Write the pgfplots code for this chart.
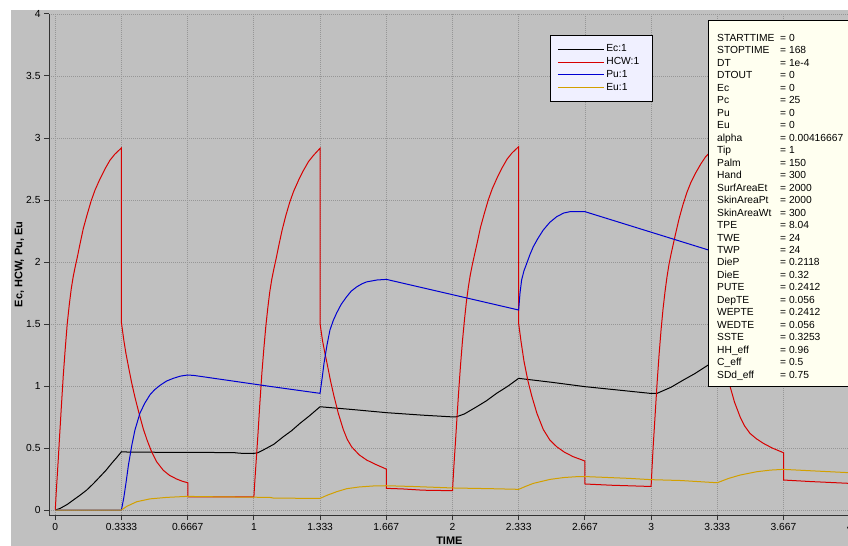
\documentclass[border=0pt]{standalone}
\usepackage{pgfplots}
\pgfplotsset{compat=1.18}
\usepackage{fontspec}
\setmainfont{Liberation Sans}
\definecolor{bggray}{RGB}{192,192,192}
\definecolor{gridgray}{RGB}{150,150,150}
\definecolor{hcwred}{RGB}{215,0,0}
\definecolor{publue}{RGB}{0,0,210}
\definecolor{eugold}{RGB}{210,160,0}
\definecolor{boxivory}{RGB}{255,255,240}
\definecolor{leglav}{RGB}{240,240,255}
\begin{document}
\begin{tikzpicture}
\fill[white] (0bp,0bp) rectangle (848bp,546bp);
\fill[bggray] (11bp,0bp) rectangle (848bp,536bp);
\begin{axis}[
  at={(49bp,31bp)}, anchor=south west,
  scale only axis, width=800.7bp, height=501bp,
  xmin=-0.0317, xmax=4, ymin=-0.04, ymax=4,
  axis x line*=bottom, axis y line*=left,
  xtick={0,0.33333,0.66667,1,1.33333,1.66667,2,2.33333,2.66667,3,3.33333,3.66667,4},
  xticklabels={0,0.3333,0.6667,1,1.333,1.667,2,2.333,2.667,3,3.333,3.667,4},
  ytick={0,0.5,1,1.5,2,2.5,3,3.5,4},
  yticklabels={0,0.5,1,1.5,2,2.5,3,3.5,4},
  grid=major,
  major grid style={gridgray, line width=0.8bp, dash pattern=on 1bp off 1bp},
  tick align=outside, major tick length=5bp,
  tick style={black!80, line width=1bp},
  axis line style={black!80, line width=1bp},
  ticklabel style={font=\fontsize{10.3}{12}\selectfont},
  xlabel={TIME}, ylabel={Ec, HCW, Pu, Eu},
  xlabel style={font=\bfseries\fontsize{11}{13}\selectfont, at={(axis description cs:0.5,-0.052)}, anchor=center},
  ylabel style={font=\bfseries\fontsize{11}{13}\selectfont, at={(axis description cs:-0.037,0.5)}, anchor=center, rotate=0},
  legend style={at={(axis description cs:0.6257,0.958)}, anchor=north west, fill=leglav, draw=black, line width=0.8bp,
    font=\fontsize{10.3}{12}\selectfont, inner xsep=7bp, inner ysep=7.5bp, row sep=0.3bp,
    cells={anchor=west, text width=37bp}},
  legend image code/.code={\draw[#1, line width=1bp] (0bp,0bp) -- (46bp,0bp);},
  every axis plot/.append style={line width=1bp},
]
\addplot[black] coordinates {
(0,0) (0.024,0.013) (0.06,0.045) (0.091,0.081) (0.125,0.12) (0.158,0.161) (0.19,0.21) (0.225,0.269)
(0.255,0.32) (0.284,0.377) (0.31,0.425) (0.333,0.47)
(0.36,0.468) (0.5,0.466) (0.7,0.465) (0.9,0.463) (0.93,0.458) (1.0,0.457) (1.02,0.462)
(1.047,0.484) (1.1,0.53) (1.148,0.591) (1.19,0.64) (1.232,0.699) (1.28,0.76) (1.333,0.833) (1.5,0.81) (1.669,0.785)
(1.85,0.765) (1.99,0.752) (2.02,0.752) (2.06,0.775) (2.122,0.833) (2.17,0.88) (2.222,0.941) (2.28,1.0) (2.333,1.062)
(2.5,1.03) (2.667,0.995) (2.85,0.965) (2.995,0.941) (3.03,0.941) (3.1,0.99) (3.162,1.048) (3.22,1.1)
(3.288,1.17) (3.333,1.2) (3.5,1.18) (3.667,1.16) (4,1.12)
};
\addlegendentry{Ec:1}
\addplot[hcwred] coordinates {
(0,0) (0.005,0.15) (0.01,0.28) (0.015,0.41) (0.02,0.55) (0.03,0.82) (0.04,1.08) (0.05,1.3)
(0.06,1.5) (0.07,1.65) (0.08,1.78) (0.09,1.88) (0.1,1.96) (0.111,2.04) (0.125,2.15) (0.141,2.27)
(0.16,2.38) (0.18,2.49) (0.2,2.58) (0.225,2.67) (0.25,2.75) (0.275,2.82) (0.3,2.87) (0.333,2.92)
(0.333,1.51) (0.345,1.37) (0.356,1.26) (0.368,1.16) (0.384,1.03) (0.401,0.91) (0.42,0.79)
(0.443,0.655) (0.463,0.56) (0.485,0.47) (0.51,0.39) (0.544,0.32) (0.575,0.28) (0.611,0.25)
(0.64,0.232) (0.667,0.22) (0.667,0.107) (1.0,0.107)
(1.005,0.24) (1.01,0.36) (1.015,0.48) (1.02,0.6) (1.03,0.86) (1.04,1.1) (1.05,1.3) (1.06,1.48)
(1.07,1.63) (1.08,1.76) (1.09,1.86) (1.1,1.94) (1.111,2.02) (1.125,2.13) (1.141,2.25) (1.16,2.37)
(1.18,2.48) (1.2,2.57) (1.225,2.66) (1.25,2.74) (1.275,2.81) (1.3,2.86) (1.333,2.917)
(1.333,1.506) (1.345,1.37) (1.357,1.27) (1.37,1.17) (1.386,1.04) (1.403,0.92) (1.425,0.78)
(1.45,0.65) (1.47,0.57) (1.492,0.51) (1.53,0.445) (1.568,0.403) (1.61,0.37) (1.667,0.33)
(1.667,0.175) (1.75,0.17) (1.85,0.16) (2.0,0.156)
(2.005,0.3) (2.01,0.43) (2.015,0.55) (2.02,0.68) (2.03,0.93) (2.04,1.16) (2.05,1.36) (2.06,1.53)
(2.07,1.68) (2.08,1.8) (2.09,1.9) (2.1,1.98) (2.111,2.06) (2.125,2.16) (2.141,2.28) (2.16,2.39)
(2.18,2.5) (2.2,2.59) (2.225,2.68) (2.25,2.76) (2.275,2.83) (2.3,2.88) (2.333,2.93)
(2.333,1.506) (2.345,1.36) (2.36,1.2) (2.38,1.04) (2.399,0.92) (2.425,0.78) (2.457,0.65)
(2.49,0.565) (2.525,0.51) (2.565,0.465) (2.608,0.43) (2.667,0.395)
(2.667,0.21) (2.8,0.2) (3.0,0.19)
(3.005,0.35) (3.01,0.5) (3.015,0.63) (3.02,0.76) (3.03,1.02) (3.04,1.25) (3.05,1.45) (3.06,1.62)
(3.07,1.76) (3.08,1.88) (3.09,1.98) (3.1,2.06) (3.111,2.14) (3.125,2.24) (3.141,2.35) (3.16,2.46)
(3.18,2.56) (3.2,2.64) (3.225,2.72) (3.25,2.79) (3.275,2.85) (3.3,2.89) (3.333,2.93)
(3.333,1.506) (3.35,1.33) (3.365,1.2) (3.38,1.1) (3.398,0.994) (3.42,0.87) (3.448,0.752)
(3.47,0.68) (3.498,0.618) (3.53,0.575) (3.565,0.538) (3.61,0.5) (3.667,0.462)
(3.667,0.242) (3.8,0.23) (4.0,0.215)
};
\addlegendentry{HCW:1}
\addplot[publue] coordinates {
(0,0) (0.333,0) (0.345,0.1) (0.357,0.23) (0.368,0.36) (0.385,0.52) (0.401,0.645) (0.426,0.78)
(0.45,0.86) (0.477,0.93) (0.5,0.97) (0.527,1.005) (0.56,1.04) (0.594,1.062) (0.63,1.08) (0.667,1.089)
(0.7,1.085) (1.081,0.997) (1.333,0.941)
(1.345,1.08) (1.353,1.183) (1.368,1.33) (1.383,1.452) (1.4,1.53) (1.417,1.59) (1.44,1.66)
(1.467,1.72) (1.49,1.765) (1.518,1.8) (1.545,1.825) (1.568,1.84) (1.62,1.855) (1.667,1.86)
(2.088,1.704) (2.333,1.613)
(2.34,1.75) (2.348,1.855) (2.36,1.93) (2.374,1.99) (2.39,2.06) (2.407,2.124) (2.43,2.19)
(2.457,2.258) (2.49,2.32) (2.525,2.366) (2.56,2.395) (2.592,2.406) (2.667,2.406)
(3.333,2.075) (3.35,2.3) (3.4,2.55) (3.45,2.72) (3.55,2.87) (3.667,2.93) (4.0,2.77)
};
\addlegendentry{Pu:1}
\addplot[eugold] coordinates {
(0,0) (0.333,0) (0.36,0.03) (0.41,0.067) (0.477,0.09) (0.561,0.102) (0.662,0.11) (0.8,0.107)
(1.08,0.102) (1.1,0.096) (1.333,0.094) (1.37,0.12) (1.417,0.148) (1.467,0.172) (1.53,0.186)
(1.601,0.194) (1.667,0.196) (1.8,0.19) (2.0,0.178) (2.2,0.172) (2.333,0.167) (2.37,0.192)
(2.407,0.215) (2.491,0.247) (2.56,0.262) (2.625,0.269) (2.667,0.27) (2.894,0.255) (3.0,0.245)
(3.15,0.238) (3.333,0.22) (3.39,0.255) (3.448,0.282) (3.532,0.309) (3.6,0.322) (3.666,0.328)
(3.8,0.317) (4.0,0.301)
};
\addlegendentry{Eu:1}
\end{axis}
\filldraw[fill=boxivory, draw=black, line width=1bp] (708bp,159bp) rectangle (870bp,525bp);
\node[anchor=north west, inner sep=0pt, font=\fontsize{10.3}{12.04}\selectfont] at (717bp,513.5bp) {%
\renewcommand{\arraystretch}{1.04}%
\begin{tabular}{@{}p{63bp}@{}l@{}}
STARTTIME & = 0\\
STOPTIME & = 168\\
DT & = 1e-4\\
DTOUT & = 0\\
Ec & = 0\\
Pc & = 25\\
Pu & = 0\\
Eu & = 0\\
alpha & = 0.00416667\\
Tip & = 1\\
Palm & = 150\\
Hand & = 300\\
SurfAreaEt & = 2000\\
SkinAreaPt & = 2000\\
SkinAreaWt & = 300\\
TPE & = 8.04\\
TWE & = 24\\
TWP & = 24\\
DieP & = 0.2118\\
DieE & = 0.32\\
PUTE & = 0.2412\\
DepTE & = 0.056\\
WEPTE & = 0.2412\\
WEDTE & = 0.056\\
SSTE & = 0.3253\\
HH\_eff & = 0.96\\
C\_eff & = 0.5\\
SDd\_eff & = 0.75
\end{tabular}};
\pgfresetboundingbox
\path[use as bounding box] (0bp,0bp) rectangle (848bp,546bp);
\end{tikzpicture}
\end{document}
